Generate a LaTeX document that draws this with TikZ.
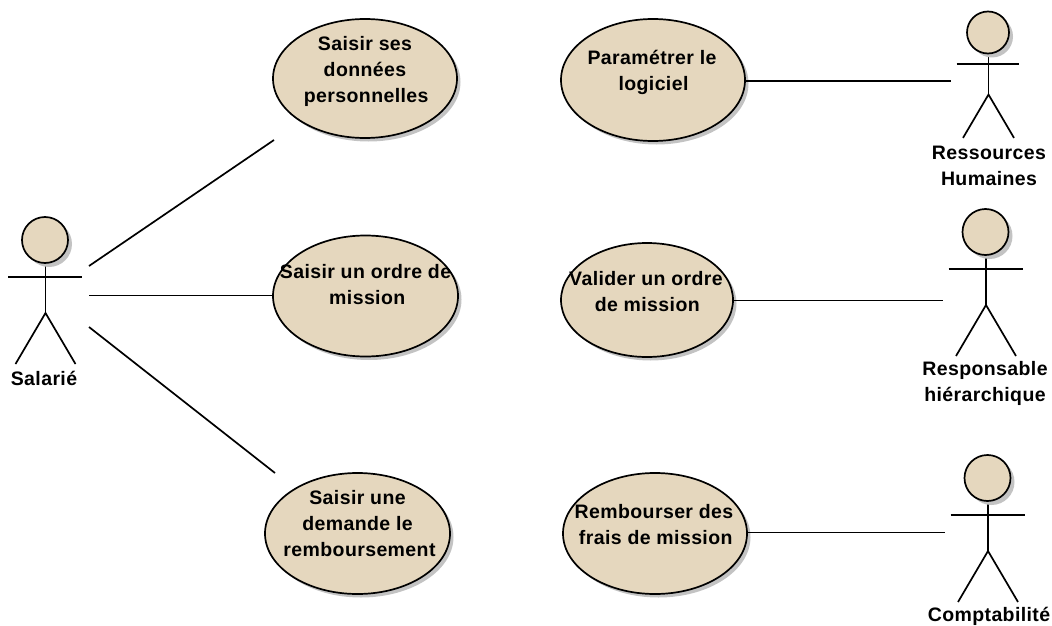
\documentclass[tikz,border=0pt]{standalone}
\usepackage{fontspec}
\setmainfont[LetterSpace=2]{Liberation Sans}
\usetikzlibrary{shapes.geometric,shadows,calc}
\definecolor{tan}{RGB}{229,215,190}
\definecolor{shade}{RGB}{195,195,195}
% #1 horizontal shift, #2 raise, #3 lines
\newcommand{\ucl}[3]{\makebox[0pt]{\kern#1pt\kern#1pt\smash{\raisebox{#2pt}{\begin{tabular}{@{}c@{}}#3\end{tabular}}}}}
\tikzset{
  x=1pt,y=-1pt,
  every node/.style={font=\fontsize{19.5}{26}\selectfont\bfseries},
  usecase/.style={ellipse,draw=black,line width=1.7pt,fill=tan,inner sep=0pt,
    drop shadow={shadow xshift=3.5pt,shadow yshift=-3.5pt,fill=shade,opacity=1}},
  heads/.style={circle,draw=black,line width=1.7pt,fill=tan,inner sep=0pt,
    drop shadow={shadow xshift=4pt,shadow yshift=-4pt,fill=shade,opacity=1}},
  limb/.style={draw=black,line width=1.7pt},
  link/.style={draw=black,line width=1.7pt},
  caption/.style={align=center,inner sep=0pt}
}
% #1 name, #2 x, #3 y, #4 scale, #5 head diameter
\newcommand{\actor}[5]{%
  \coordinate (#1-neck) at (#2+0.5,#3);
  \coordinate (#1-hip) at (#2+0.5,#3+73*#4);
  \coordinate (#1-la) at (#2-37*#4,#3+37*#4);
  \coordinate (#1-ra) at (#2+37*#4,#3+37*#4);
  \coordinate (#1-lf) at (#2+0.5-30*#4,#3+124*#4);
  \coordinate (#1-rf) at (#2+0.5+30*#4,#3+124*#4);
  \draw[limb] (#1-neck) -- (#1-hip);
  \draw[limb] (#1-la) -- (#1-ra);
  \draw[limb] (#1-lf) -- (#1-hip) -- (#1-rf);
  \node[heads,minimum size=#5] (#1) at (#2,#3) {};
}
\begin{document}
\begin{tikzpicture}
\useasboundingbox (0,0) rectangle (1052,626);
% use cases
\node[usecase,minimum width=184pt,minimum height=119pt] (u1) at (365,78.5) {\ucl{0}{2}{Saisir ses\\données\\\hspace*{2.5pt}personnelles}};
\node[usecase,minimum width=185pt,minimum height=121pt] (u2) at (365.5,296) {\ucl{0}{5}{Saisir un ordre de\\\hspace*{3.5pt}mission}};
\node[usecase,minimum width=185pt,minimum height=121pt] (u3) at (357.5,533.5) {\ucl{0}{3}{Saisir une\\demande le\\\hspace*{4pt}remboursement}};
\node[usecase,minimum width=184pt,minimum height=122pt] (u4) at (653,80) {\ucl{-1}{3}{Paramétrer le\\\hspace*{3pt}logiciel}};
\node[usecase,minimum width=172pt,minimum height=114pt] (u5) at (647,300) {\ucl{-1}{2}{Valider un ordre\\\hspace*{2.5pt}de mission}};
\node[usecase,minimum width=184pt,minimum height=121pt] (u6) at (655,533.5) {\ucl{-1}{2}{Rembourser des\\\hspace*{3.5pt}frais de mission}};
% actors
\actor{a1}{45}{240}{1}{46pt}
\actor{a2}{988}{32.5}{0.85}{42pt}
\actor{a3}{985.5}{232}{1}{46pt}
\actor{a4}{987.5}{478}{1}{46pt}
\node[caption] (l1) at (44,378) {Salarié};
\node[caption] (l2) at (989,166) {Ressources\\Humaines};
\node[caption] (l3) at (985,383.5) {Responsable\\hiérarchique};
\node[caption] (l4) at (989,616) {Comptabilité};
% connector free ends
\coordinate (c1a) at (89,266);
\coordinate (c1b) at (274,140);
\coordinate (c2a) at (89,295.5);
\coordinate (c3a) at (89,327);
\coordinate (c3b) at (275,473);
\coordinate (c4b) at (951,81);
\coordinate (c5b) at (943,300.5);
\coordinate (c6b) at (945,532.5);
\draw[link] (c1a) -- (c1b);
\draw[link] (c2a) -- (c2a -| u2.west);
\draw[link] (c3a) -- (c3b);
\draw[link] (u4.east |- c4b) -- (c4b);
\draw[link] (u5.east |- c5b) -- (c5b);
\draw[link] (u6.east |- c6b) -- (c6b);
\end{tikzpicture}
\end{document}
